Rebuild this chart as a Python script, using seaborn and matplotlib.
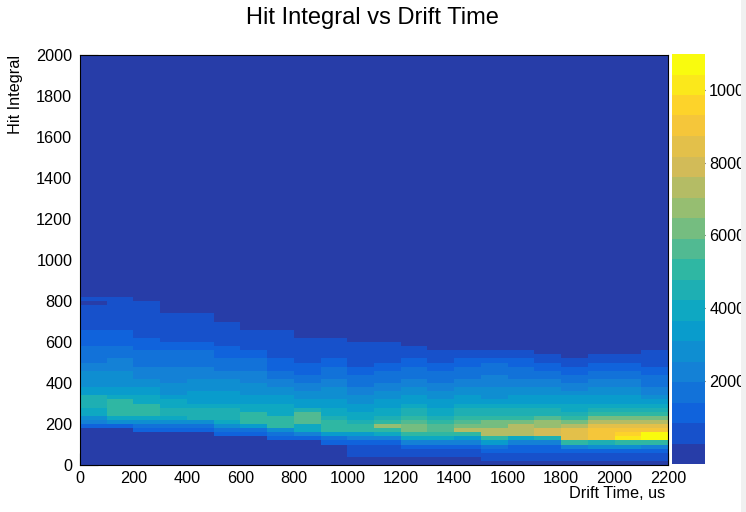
import numpy as np
import pandas as pd
import seaborn as sns
import matplotlib.pyplot as plt
from matplotlib.colors import LinearSegmentedColormap, ListedColormap
from matplotlib.patches import Rectangle

# histogram binning: drift time in 100 us bins, hit integral in 20 unit bins
x_edges = np.arange(0, 2201, 100)
y_edges = np.arange(0, 2001, 20)

# colour band (0..19) of the y-bins of each drift-time bin,
# run-length coded from Hit Integral = 0 upward as (band, number of bins); above: band 0
bands = [
    [(0, 9), (2, 1), (4, 1), (5, 1), (7, 2), (8, 3), (6, 2), (5, 4), (4, 2), (3, 4), (2, 4), (1, 6), (0, 1), (1, 1)],
    [(0, 9), (2, 1), (5, 1), (7, 1), (9, 4), (7, 1), (6, 2), (5, 4), (4, 3), (3, 3), (2, 4), (1, 8)],
    [(0, 8), (2, 1), (3, 1), (5, 1), (7, 1), (9, 3), (7, 2), (6, 2), (5, 2), (4, 3), (3, 4), (2, 3), (1, 9)],
    [(0, 8), (2, 1), (3, 1), (5, 1), (7, 1), (8, 2), (7, 2), (6, 1), (5, 3), (4, 4), (3, 4), (2, 2), (1, 7)],
    [(0, 8), (2, 1), (3, 1), (5, 1), (8, 3), (7, 1), (6, 3), (5, 3), (4, 3), (3, 4), (2, 2), (1, 7)],
    [(0, 7), (2, 1), (3, 1), (5, 1), (7, 1), (8, 3), (7, 1), (6, 3), (5, 3), (4, 2), (3, 3), (2, 3), (1, 6)],
    [(0, 7), (2, 1), (3, 1), (6, 1), (9, 3), (7, 2), (6, 2), (5, 3), (4, 3), (3, 3), (2, 2), (1, 5)],
    [(0, 6), (2, 1), (3, 1), (5, 1), (9, 3), (7, 3), (6, 2), (5, 2), (4, 2), (3, 2), (2, 3), (1, 7)],
    [(0, 6), (2, 1), (4, 1), (7, 2), (10, 3), (8, 1), (6, 2), (5, 2), (4, 2), (3, 2), (2, 3), (1, 6)],
    [(0, 5), (2, 1), (3, 1), (6, 1), (9, 3), (8, 1), (7, 2), (6, 2), (5, 3), (4, 2), (3, 3), (2, 2), (1, 5)],
    [(0, 2), (1, 3), (2, 1), (4, 1), (6, 1), (9, 2), (8, 1), (7, 2), (6, 2), (5, 2), (4, 2), (3, 3), (2, 2), (1, 6)],
    [(0, 2), (1, 3), (2, 1), (4, 1), (7, 1), (9, 1), (12, 1), (9, 1), (8, 1), (7, 2), (6, 2), (5, 2), (4, 2), (3, 3), (2, 2), (1, 5)],
    [(0, 2), (1, 2), (2, 1), (4, 1), (7, 1), (9, 1), (11, 2), (10, 1), (9, 1), (8, 2), (7, 1), (6, 2), (5, 2), (4, 2), (3, 3), (2, 2), (1, 3)],
    [(0, 2), (1, 2), (2, 1), (4, 1), (7, 1), (9, 1), (10, 2), (9, 1), (8, 1), (7, 2), (6, 2), (5, 2), (4, 2), (3, 3), (2, 2), (1, 3)],
    [(0, 2), (1, 2), (2, 1), (4, 1), (6, 1), (9, 1), (13, 1), (11, 1), (10, 1), (9, 1), (8, 2), (7, 1), (6, 2), (5, 2), (4, 2), (3, 3), (2, 2), (1, 2)],
    [(0, 1), (1, 2), (2, 1), (3, 1), (6, 1), (9, 1), (13, 2), (11, 2), (9, 1), (8, 2), (7, 1), (6, 1), (5, 3), (4, 3), (3, 3), (2, 1), (1, 2)],
    [(0, 1), (1, 2), (2, 2), (4, 1), (7, 1), (13, 3), (11, 1), (9, 1), (8, 2), (7, 1), (6, 2), (5, 2), (4, 2), (3, 3), (2, 2), (1, 2)],
    [(0, 1), (1, 2), (2, 2), (4, 1), (8, 1), (14, 2), (12, 2), (10, 1), (8, 2), (7, 1), (6, 2), (5, 2), (4, 2), (3, 2), (2, 2), (1, 2)],
    [(0, 1), (1, 2), (2, 1), (4, 1), (9, 1), (15, 3), (13, 1), (11, 1), (9, 1), (8, 1), (7, 2), (6, 2), (5, 1), (4, 2), (3, 2), (2, 2), (1, 2)],
    [(0, 1), (1, 2), (2, 1), (5, 1), (8, 1), (16, 3), (15, 1), (13, 1), (11, 1), (9, 1), (8, 1), (7, 1), (6, 2), (5, 2), (4, 2), (3, 2), (2, 2), (1, 2)],
    [(0, 1), (1, 2), (2, 1), (5, 1), (9, 1), (18, 1), (17, 1), (16, 1), (15, 1), (13, 1), (11, 1), (9, 1), (8, 1), (7, 1), (6, 2), (5, 2), (4, 2), (3, 2), (2, 2), (1, 2)],
    [(0, 1), (1, 2), (2, 1), (4, 1), (9, 1), (19, 2), (16, 1), (15, 1), (13, 1), (11, 1), (9, 1), (8, 1), (7, 1), (6, 1), (5, 1), (4, 2), (3, 3), (2, 2), (1, 4)],
]

# z axis of the palette
z_min, z_max, n_contours = -300, 11000, 20
z_ticks = [2000, 4000, 6000, 8000, 10000]
x_ticks = np.arange(0, 2201, 200)
y_ticks = np.arange(0, 2001, 200)

# ROOT kBird palette
bird_stops = [0.0, 0.125, 0.25, 0.375, 0.5, 0.625, 0.75, 0.875, 1.0]
bird_red = [0.2082, 0.0592, 0.0780, 0.0232, 0.1802, 0.5301, 0.8186, 0.9956, 0.9764]
bird_green = [0.1664, 0.3599, 0.5041, 0.6419, 0.7178, 0.7492, 0.7328, 0.7862, 0.9832]
bird_blue = [0.5293, 0.8684, 0.8385, 0.7914, 0.6425, 0.4662, 0.3499, 0.1968, 0.0539]

bird = LinearSegmentedColormap.from_list(
    "bird", list(zip(bird_stops, zip(bird_red, bird_green, bird_blue))))
cmap = ListedColormap([bird((k + 1) / n_contours) for k in range(n_contours)])

# bin contents: middle of the band
step = (z_max - z_min) / n_contours
grid = np.zeros((len(y_edges) - 1, len(x_edges) - 1))
for ix, runs in enumerate(bands):
    col = np.concatenate([np.full(n, lev) for lev, n in runs])
    vals = np.where(col == 0, 0.0, z_min + (col + 0.5) * step)
    grid[:len(col), ix] = vals
df = pd.DataFrame(grid, index=y_edges[:-1], columns=x_edges[:-1])

sns.set_theme(style="white")
plt.rcParams["font.family"] = ["Liberation Sans", "DejaVu Sans"]
plt.rcParams["text.color"] = "black"
plt.rcParams["xtick.labelcolor"] = "black"
plt.rcParams["ytick.labelcolor"] = "black"

W, H = 746, 512
fig = plt.figure(figsize=(W / 100, H / 100), dpi=100)
ax = fig.add_axes([80 / W, 47 / H, 588 / W, 410 / H])
cax = fig.add_axes([672 / W, 48 / H, 33 / W, 410 / H])

sns.heatmap(df, ax=ax, cbar_ax=cax, cmap=cmap, vmin=z_min, vmax=z_max,
            xticklabels=False, yticklabels=False)
ax.invert_yaxis()

# axes in bin units -> data labels
ax.set_xticks(x_ticks / 100)
ax.set_xticklabels([str(v) for v in x_ticks])
ax.set_xticks(np.arange(0, 2201, 50) / 100, minor=True)
ax.set_yticks(y_ticks / 20)
ax.set_yticklabels([str(v) for v in y_ticks])
ax.set_yticks(np.arange(0, 2001, 50) / 20, minor=True)
ax.set_xlabel("")
ax.set_ylabel("")

ax.tick_params(axis="x", which="major", direction="in", length=8.6, width=0.8,
               color="black", labelcolor="black", pad=4, labelsize=11.7,
               bottom=True, top=False)
ax.tick_params(axis="x", which="minor", direction="in", length=4.3, width=0.8,
               color="black", bottom=True, top=False)
ax.tick_params(axis="y", which="major", direction="in", length=13, width=0.8,
               color="black", labelcolor="black", pad=5.5, labelsize=11.7,
               left=True, right=False)
ax.tick_params(axis="y", which="minor", direction="in", length=6.5, width=0.8,
               color="black", left=True, right=False)
for s in ax.spines.values():
    s.set_visible(True)
    s.set_color("black")
    s.set_linewidth(0.8)

cax.set_yticks(z_ticks)
cax.set_yticklabels([str(v) for v in z_ticks])
cax.minorticks_off()
cax.yaxis.set_ticks_position("right")
cax.tick_params(axis="y", direction="in", length=13, width=0.8, color="#222222",
                labelcolor="black", pad=3, labelsize=11.7, right=True, left=False)

fig.text(372 / W, 1 - 18 / H, "Hit Integral vs Drift Time",
         ha="center", va="center", fontsize=17, color="black")
fig.text(665 / W, 1 - 493 / H, "Drift Time, us", ha="right", va="center",
         fontsize=11.7, color="black")
fig.text(16 / W, 1 - 55 / H, "Hit Integral", rotation=90, ha="center", va="top",
         fontsize=11.7, color="black")

# canvas ends a few pixels before the image edge
fig.add_artist(Rectangle((741 / W, 0), 5 / W, 1, transform=fig.transFigure,
                         facecolor="#f0f0f0", edgecolor="none", zorder=10))

fig.savefig("out.png", dpi=100)
